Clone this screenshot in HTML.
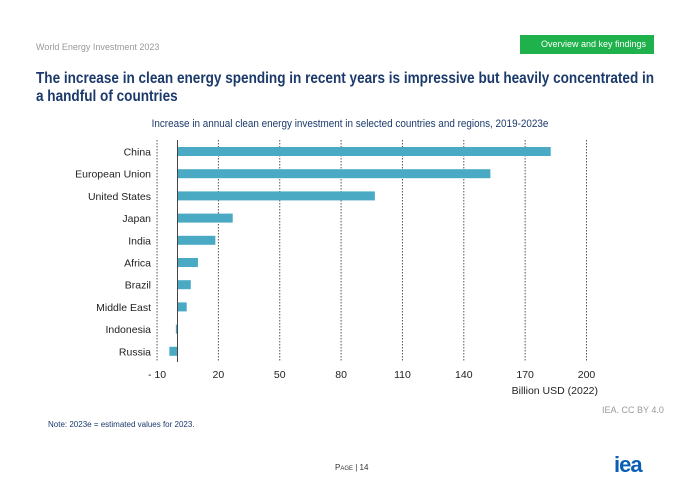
<!DOCTYPE html>
<html><head><meta charset="utf-8"><style>
body{margin:0;width:700px;height:495px;background:#fff;font-family:"Liberation Sans",sans-serif;position:relative;overflow:hidden}
.a{position:absolute}
</style></head><body>
<div class="a" style="left:36px;top:42px;font-size:9px;color:#999">World Energy Investment 2023</div>
<div class="a" style="left:520px;top:35px;width:134px;height:19px;background:#1fb14b;color:#fff;font-size:9px;line-height:19px;text-align:right;padding-right:8px;box-sizing:border-box">Overview and key findings</div>
<div class="a" style="left:36px;top:70px;white-space:nowrap;font-size:15.5px;font-weight:bold;color:#1b3a6b;line-height:18px;transform:scaleX(0.875);transform-origin:0 0">The increase in clean energy spending in recent years is impressive but heavily concentrated in<br>a handful of countries</div>
<div class="a" style="left:0;width:700px;top:118px;text-align:center;font-size:11px;color:#1b3a6b;transform:scaleX(0.9);transform-origin:350px 0">Increase in annual clean energy investment in selected countries and regions, 2019-2023e</div>
<svg class="a" style="left:0;top:0" width="700" height="495">
<g id="g"></g></svg>
<div class="a" style="left:602px;top:405px;font-size:9px;color:#999">IEA. CC BY 4.0</div>
<div class="a" style="left:48px;top:420px;font-size:8px;color:#1b3a6b">Note:  2023e = estimated values for 2023.</div>
<div class="a" style="left:335px;top:463px;font-size:8px;color:#333">P<span style="font-size:6px">AGE</span> | 14</div>
<div class="a" style="left:614px;top:452px;font-size:22px;font-weight:bold;color:#0a5fb4;letter-spacing:-1px">iea</div>
<script>
const categories=["China","European Union","United States","Japan","India","Africa","Brazil","Middle East","Indonesia","Russia"];
const values=[182.5,153,96.5,27,18.5,10,6.5,4.5,-0.8,-4];
const ticks=[-10,20,50,80,110,140,170,200];
const tickLabels=["- 10","20","50","80","110","140","170","200"];
const g=document.getElementById('g'),NS="http://www.w3.org/2000/svg";
const x=v=>177.5+(v)*2.045, y=i=>151.5+i*22.2;
function mk(t,a,txt){const e=document.createElementNS(NS,t);for(const k in a)e.setAttribute(k,a[k]);if(txt!=null)e.textContent=txt;g.appendChild(e);return e;}
ticks.forEach((t,i)=>{
 const l=mk('line',{x1:x(t),x2:x(t),y1:140,y2:362,stroke:'#555','stroke-width':1,'stroke-dasharray':'1.5,1.5'});
 
 
 const tx=mk('text',{x:x(t),y:378,'text-anchor':'middle','font-size':10.5,fill:'#222'},tickLabels[i]);
 
 
});
values.forEach((v,i)=>{
 const r=mk('rect',{x:Math.min(x(0),x(v)),y:y(i)-4.5,width:Math.abs(x(v)-x(0)),height:9,fill:'#4aaac4'});
 
 
 const t=mk('text',{x:151,y:y(i)+4,'text-anchor':'end','font-size':10.5,fill:'#222'},categories[i]);
 
 
});
const ax=mk('line',{x1:x(0),x2:x(0),y1:140,y2:362,stroke:'#444','stroke-width':1});


const at=mk('text',{x:598,y:394,'text-anchor':'end','font-size':10.5,fill:'#222'},'Billion USD (2022)');


</script>
</body></html>
